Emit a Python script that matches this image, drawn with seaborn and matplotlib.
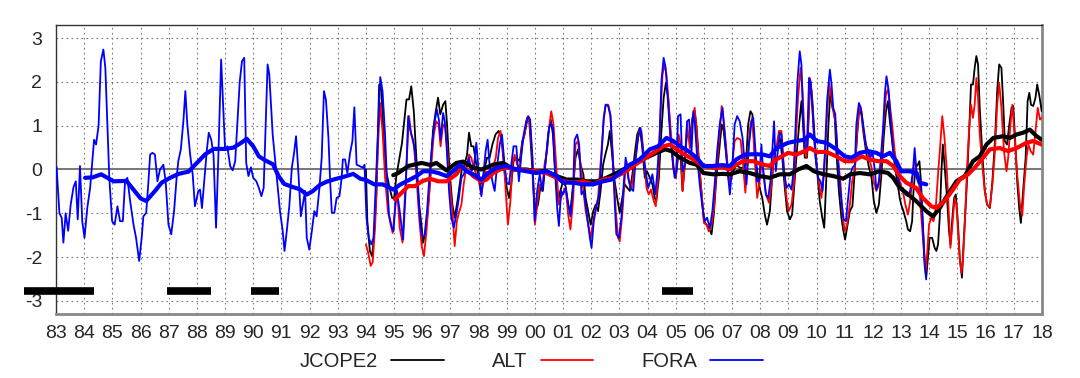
import numpy as np
import pandas as pd
import matplotlib.pyplot as plt
import seaborn as sns

# monthly-ish anomalies: (decimal year, value)
fora_thin = [
    (1983.02, 0.05), (1983.12, -1.0), (1983.2, -1.1), (1983.26, -1.67), (1983.34, -1.0),
    (1983.43, -1.4), (1983.52, -0.8), (1983.62, -0.4), (1983.7, -0.27), (1983.77, -1.14),
    (1983.85, 0.08), (1983.93, -1.18), (1984.01, -1.56), (1984.11, -0.87), (1984.21, -0.42),
    (1984.35, 0.68), (1984.42, 0.57), (1984.51, 1.0), (1984.59, 2.47), (1984.68, 2.74),
    (1984.75, 2.32), (1984.82, 1.03), (1984.89, -0.19), (1984.99, -1.18), (1985.08, -1.26),
    (1985.18, -0.84), (1985.27, -1.18), (1985.37, -1.18), (1985.45, -0.27), (1985.53, -0.19),
    (1985.63, -0.72), (1985.75, -1.26), (1985.84, -1.56), (1985.95, -2.09), (1986.04, -1.56),
    (1986.1, -1.07), (1986.2, -0.99), (1986.28, -0.27), (1986.34, 0.34), (1986.42, 0.38),
    (1986.51, 0.34), (1986.6, -0.27), (1986.69, 0.0), (1986.81, 0.11), (1986.89, -0.27),
    (1986.99, -1.26), (1987.09, -1.48), (1987.19, -0.95), (1987.28, -0.19), (1987.34, 0.19),
    (1987.43, 0.46), (1987.52, 1.1), (1987.59, 1.79), (1987.66, 1.03), (1987.76, 0.34),
    (1987.85, -0.11), (1987.93, -0.84), (1988.05, -0.49), (1988.11, -0.46), (1988.18, -0.88),
    (1988.25, -0.34), (1988.35, 0.42), (1988.42, 0.84), (1988.51, 0.68), (1988.59, 0.34),
    (1988.68, -1.33), (1988.76, 0.27), (1988.86, 2.51), (1988.94, 1.33), (1989.0, 0.46),
    (1989.08, 0.53), (1989.18, 0.08), (1989.27, -0.02), (1989.36, 0.19), (1989.45, 1.2),
    (1989.52, 2.0), (1989.6, 2.47), (1989.68, 2.55), (1989.75, 0.15), (1989.83, -0.15),
    (1989.92, 0.05), (1990.0, -0.19), (1990.11, -0.27), (1990.2, -0.42), (1990.29, -0.61),
    (1990.37, -0.42), (1990.44, 1.03), (1990.51, 2.4), (1990.57, 2.17), (1990.69, 0.8),
    (1990.83, -0.15), (1990.95, -0.95), (1991.04, -1.37), (1991.11, -1.86), (1991.19, -1.41),
    (1991.28, -0.84), (1991.37, 0.04), (1991.45, 0.38), (1991.52, 0.76), (1991.6, -0.04),
    (1991.69, -1.07), (1991.76, -0.8), (1991.84, -0.49), (1991.9, -1.56), (1991.99, -1.83),
    (1992.08, -1.41), (1992.17, -0.95), (1992.25, -1.07), (1992.35, -0.42), (1992.43, 0.27),
    (1992.51, 1.79), (1992.58, 1.6), (1992.67, 0.72), (1992.73, -0.27), (1992.79, -0.99),
    (1992.88, -0.99), (1992.96, -0.65), (1993.06, -0.61), (1993.14, -0.19), (1993.18, 0.23),
    (1993.26, 0.23), (1993.34, -0.08), (1993.44, 0.38), (1993.52, 0.65), (1993.59, 1.42),
    (1993.67, 0.11), (1993.77, 0.08), (1993.89, 0.04), (1993.95, 0.11), (1994.02, -1.1),
    (1994.1, -1.56), (1994.19, -1.71), (1994.27, -1.56), (1994.38, 0.11), (1994.51, 2.11),
    (1994.59, 1.79), (1994.68, 0.8), (1994.74, -0.15), (1994.82, -1.03), (1994.92, -1.33),
    (1994.98, -1.41), (1995.08, -0.42), (1995.2, -0.95), (1995.32, -1.6), (1995.41, -0.49),
    (1995.5, 1.22), (1995.58, 0.88), (1995.67, 0.68), (1995.74, 0.42), (1995.85, -0.49),
    (1995.93, -1.26), (1996.0, -1.52), (1996.08, -1.52), (1996.17, -0.95), (1996.26, -0.11),
    (1996.36, 0.65), (1996.44, 1.1), (1996.52, 1.37), (1996.6, 1.1), (1996.65, 0.68),
    (1996.74, 1.29), (1996.8, 1.1), (1996.86, 0.57), (1996.95, -0.49), (1997.03, -1.1),
    (1997.12, -1.33), (1997.21, -1.03), (1997.3, -0.65), (1997.39, -0.19), (1997.47, -0.11),
    (1997.56, 0.04), (1997.66, 0.27), (1997.74, -0.04), (1997.83, 0.04), (1997.92, 0.61),
    (1998.01, -0.11), (1998.1, -0.61), (1998.18, -0.04), (1998.25, 0.42), (1998.32, 0.68),
    (1998.39, 0.11), (1998.49, -0.27), (1998.57, -0.49), (1998.65, 0.04), (1998.75, 0.57),
    (1998.83, 0.8), (1998.92, 0.11), (1999.0, -0.3), (1999.08, -0.34), (1999.16, 0.11),
    (1999.24, 0.53), (1999.34, 0.53), (1999.43, -0.27), (1999.52, 0.34), (1999.6, 0.8),
    (1999.69, 1.1), (1999.76, 1.22), (1999.83, 1.14), (1999.91, 0.27), (1999.99, -1.18),
    (2000.08, -0.49), (2000.17, -0.11), (2000.26, -0.49), (2000.34, -0.04), (2000.43, 0.49),
    (2000.5, 0.95), (2000.57, 1.07), (2000.64, 0.95), (2000.72, -0.11), (2000.79, -0.88),
    (2000.85, -1.29), (2000.93, -0.49), (2001.0, -0.57), (2001.09, -0.42), (2001.18, -0.8),
    (2001.26, -1.07), (2001.36, -0.34), (2001.41, 0.68), (2001.5, 0.8), (2001.57, 0.57),
    (2001.65, -0.57), (2001.73, -0.49), (2001.8, -0.8), (2001.89, -1.26), (2001.95, -1.56),
    (2002.01, -1.79), (2002.09, -1.18), (2002.18, -0.84), (2002.28, -0.57), (2002.36, 0.27),
    (2002.44, 1.18), (2002.51, 1.48), (2002.6, 1.45), (2002.68, 1.22), (2002.75, 0.42),
    (2002.83, -0.72), (2002.89, -1.48), (2002.98, -1.56), (2003.07, -1.1), (2003.15, -0.34),
    (2003.22, 0.27), (2003.31, -0.19), (2003.39, -0.42), (2003.49, -0.49), (2003.58, 0.27),
    (2003.66, 0.72), (2003.75, 0.95), (2003.84, 0.42), (2003.93, -0.04), (2004.02, -0.42),
    (2004.1, -0.27), (2004.17, -0.11), (2004.27, -0.57), (2004.34, -0.11), (2004.43, 0.8),
    (2004.49, 2.02), (2004.57, 2.55), (2004.64, 2.32), (2004.73, 1.48), (2004.81, 0.72),
    (2004.91, 0.11), (2004.96, -0.19), (2005.02, -0.04), (2005.08, 1.22), (2005.17, 1.26),
    (2005.24, -0.04), (2005.32, 0.11), (2005.4, 1.1), (2005.47, 1.14), (2005.56, 0.42),
    (2005.62, 1.33), (2005.67, 1.1), (2005.76, 0.27), (2005.85, -0.34), (2005.95, -0.88),
    (2006.03, -1.18), (2006.11, -1.1), (2006.21, -1.33), (2006.3, -0.95), (2006.38, -0.34),
    (2006.47, 0.42), (2006.56, 1.03), (2006.66, 1.41), (2006.74, 0.8), (2006.82, 0.11),
    (2006.92, -0.57), (2007.01, 0.11), (2007.09, 1.03), (2007.18, 1.22), (2007.27, 1.1),
    (2007.37, 0.72), (2007.45, 0.11), (2007.51, -0.34), (2007.6, 0.57), (2007.69, 1.1),
    (2007.75, 1.18), (2007.83, 0.42), (2007.89, -0.27), (2007.96, -0.27), (2008.04, 0.57),
    (2008.1, -0.04), (2008.2, -0.57), (2008.28, -0.65), (2008.36, -0.27), (2008.43, 0.49),
    (2008.49, 1.1), (2008.55, -0.04), (2008.61, 0.34), (2008.69, 0.84), (2008.75, 0.8),
    (2008.83, 0.04), (2008.93, -0.42), (2009.02, -0.34), (2009.11, -0.46), (2009.19, 0.04),
    (2009.26, 1.1), (2009.32, 2.02), (2009.4, 2.7), (2009.46, 2.4), (2009.52, 1.18),
    (2009.58, 0.42), (2009.66, 0.49), (2009.73, 2.09), (2009.79, 1.98), (2009.88, 1.1),
    (2009.96, 0.27), (2010.05, -0.19), (2010.14, -0.27), (2010.21, -0.49), (2010.29, 0.34),
    (2010.37, 1.56), (2010.47, 2.28), (2010.53, 1.94), (2010.59, 1.41), (2010.66, 1.26),
    (2010.73, 0.49), (2010.8, -0.19), (2010.88, -0.72), (2010.96, -1.14), (2011.04, -1.18),
    (2011.12, -0.65), (2011.2, -0.11), (2011.27, 0.04), (2011.36, 0.11), (2011.41, 1.03),
    (2011.5, 1.52), (2011.57, 1.41), (2011.65, 1.03), (2011.75, 0.57), (2011.83, 0.42),
    (2011.91, 0.27), (2011.98, 0.42), (2012.07, -0.04), (2012.12, -0.46), (2012.21, -0.27),
    (2012.28, 0.27), (2012.36, 0.95), (2012.42, 1.71), (2012.48, 2.13), (2012.56, 1.79),
    (2012.63, 1.1), (2012.72, 0.42), (2012.8, 0.19), (2012.89, -0.19), (2012.98, -0.42),
    (2013.06, -0.42), (2013.15, -0.57), (2013.24, -0.61), (2013.32, -0.49), (2013.42, -0.04),
    (2013.48, 0.49), (2013.54, -0.04), (2013.62, -0.27), (2013.69, -0.34), (2013.77, -1.26),
    (2013.83, -2.17), (2013.89, -2.51),
]

jcope2_thin = [
    (1994.0, 0.0), (1994.05, -1.18), (1994.14, -1.86), (1994.22, -1.98), (1994.28, -1.56),
    (1994.37, -0.65), (1994.47, 1.94), (1994.55, 1.79), (1994.63, 0.72), (1994.72, -0.04),
    (1994.84, -0.42), (1994.93, -0.65), (1995.0, -0.65), (1995.08, -0.15), (1995.28, 0.6),
    (1995.44, 1.6), (1995.53, 1.6), (1995.61, 1.9), (1995.7, 1.33), (1995.79, 0.27),
    (1995.89, -0.8), (1995.97, -1.26), (1996.03, -1.67), (1996.12, -1.41), (1996.2, -0.91),
    (1996.29, -0.11), (1996.38, 0.88), (1996.48, 1.33), (1996.56, 1.64), (1996.64, 1.26),
    (1996.74, 1.48), (1996.82, 1.56), (1996.88, 1.03), (1996.97, -0.04), (1997.07, -0.8),
    (1997.15, -1.1), (1997.25, -0.72), (1997.33, -0.34), (1997.41, 0.04), (1997.5, 0.11),
    (1997.59, 0.34), (1997.66, 0.84), (1997.74, 0.53), (1997.82, 0.53), (1997.9, 0.19),
    (1997.98, -0.11), (1998.06, -0.34), (1998.13, -0.27), (1998.22, 0.04), (1998.3, 0.27),
    (1998.39, 0.27), (1998.49, 0.57), (1998.6, 0.8), (1998.71, 0.88), (1998.81, 0.72),
    (1998.92, -0.04), (1999.0, -0.42), (1999.08, -0.65), (1999.16, -0.34), (1999.24, 0.19),
    (1999.34, 0.27), (1999.46, 0.19), (1999.55, 0.65), (1999.63, 0.8), (1999.72, 1.1),
    (1999.79, 1.18), (1999.87, 0.42), (1999.95, -0.49), (2000.02, -0.95), (2000.11, -0.8),
    (2000.19, -0.42), (2000.28, -0.49), (2000.38, 0.19), (2000.47, 0.8), (2000.56, 1.14),
    (2000.64, 0.8), (2000.72, -0.11), (2000.82, -0.72), (2000.9, -0.49), (2001.0, -0.27),
    (2001.09, -0.38), (2001.18, -0.8), (2001.26, -0.95), (2001.36, -0.34), (2001.44, 0.27),
    (2001.53, 0.46), (2001.62, 0.11), (2001.72, -0.11), (2001.8, -0.65), (2001.89, -0.95),
    (2001.98, -1.26), (2002.07, -0.95), (2002.16, -0.8), (2002.24, -0.95), (2002.33, -0.49),
    (2002.42, 0.11), (2002.5, 0.34), (2002.59, 0.57), (2002.66, 0.88), (2002.75, 0.27),
    (2002.83, -0.27), (2002.92, -0.65), (2003.01, -0.99), (2003.1, -0.65), (2003.19, -0.34),
    (2003.28, -0.42), (2003.37, -0.49), (2003.46, -0.11), (2003.54, 0.34), (2003.63, 0.8),
    (2003.72, 0.95), (2003.8, 0.57), (2003.9, -0.19), (2003.98, -0.04), (2004.08, -0.19),
    (2004.17, -0.34), (2004.25, -0.65), (2004.31, -0.72), (2004.4, -0.19), (2004.49, 0.88),
    (2004.57, 1.64), (2004.65, 1.98), (2004.73, 1.64), (2004.81, 0.8), (2004.91, 0.04),
    (2005.0, -0.19), (2005.08, 0.27), (2005.17, 0.3), (2005.24, -0.49), (2005.32, 0.11),
    (2005.4, 0.88), (2005.5, 0.65), (2005.59, 1.18), (2005.67, 1.33), (2005.73, 1.03),
    (2005.83, 0.11), (2005.91, -0.49), (2006.0, -1.18), (2006.09, -1.26), (2006.17, -1.33),
    (2006.27, -1.48), (2006.35, -1.03), (2006.44, -0.19), (2006.54, 0.42), (2006.63, 1.03),
    (2006.7, 0.88), (2006.8, 0.27), (2006.89, -0.27), (2006.97, -0.19), (2007.04, -0.04),
    (2007.15, 0.11), (2007.27, 0.04), (2007.39, 0.04), (2007.49, 0.11), (2007.57, 1.03),
    (2007.65, 1.33), (2007.72, 1.26), (2007.8, 0.42), (2007.89, -0.04), (2007.98, -0.42),
    (2008.07, -0.65), (2008.16, -1.03), (2008.24, -1.26), (2008.34, -0.95), (2008.43, -0.11),
    (2008.51, 0.42), (2008.6, 0.57), (2008.69, 0.72), (2008.78, 0.27), (2008.87, -0.42),
    (2008.95, -0.95), (2009.05, -1.14), (2009.13, -1.03), (2009.21, -0.34), (2009.28, 0.27),
    (2009.38, 1.03), (2009.46, 1.56), (2009.52, 1.03), (2009.58, 0.27), (2009.66, 0.27),
    (2009.73, 1.41), (2009.78, 2.02), (2009.85, 1.56), (2009.93, 0.72), (2010.02, -0.04),
    (2010.11, -0.72), (2010.2, -1.1), (2010.27, -1.33), (2010.35, -0.11), (2010.42, 1.03),
    (2010.49, 1.79), (2010.56, 1.41), (2010.64, 1.26), (2010.7, 0.42), (2010.79, -0.49),
    (2010.88, -1.1), (2010.94, -1.37), (2011.01, -1.6), (2011.08, -1.33), (2011.18, -0.95),
    (2011.27, -0.84), (2011.36, 0.04), (2011.44, 0.8), (2011.51, 1.37), (2011.59, 1.26),
    (2011.67, 0.8), (2011.77, 0.34), (2011.86, 0.04), (2011.95, -0.19), (2012.03, -0.72),
    (2012.12, -0.99), (2012.21, -0.8), (2012.3, -0.11), (2012.38, 0.72), (2012.46, 1.33),
    (2012.53, 1.56), (2012.6, 1.1), (2012.68, 0.65), (2012.77, 0.11), (2012.86, -0.27),
    (2012.95, -0.65), (2013.0, -0.8), (2013.08, -0.95), (2013.18, -1.18), (2013.24, -1.37),
    (2013.32, -1.41), (2013.39, -1.18), (2013.44, -0.49), (2013.51, 0.04), (2013.59, 0.11),
    (2013.65, 0.19), (2013.71, -0.34), (2013.77, -1.26), (2013.83, -2.02), (2013.89, -2.47),
    (2013.95, -2.02), (2014.01, -1.56), (2014.1, -1.56), (2014.19, -1.79), (2014.25, -1.86),
    (2014.31, -1.71), (2014.37, -1.1), (2014.43, -0.04), (2014.48, 0.57), (2014.54, 0.11),
    (2014.63, -0.65), (2014.7, -1.41), (2014.75, -1.71), (2014.82, -1.1), (2014.88, -0.65),
    (2014.94, -0.57), (2015.02, -1.26), (2015.08, -2.02), (2015.16, -2.47), (2015.22, -1.64),
    (2015.32, -0.49), (2015.41, 0.8), (2015.48, 1.94), (2015.55, 1.94), (2015.61, 2.32),
    (2015.67, 2.59), (2015.73, 2.4), (2015.79, 1.41), (2015.89, 0.27), (2015.97, -0.49),
    (2016.05, -0.8), (2016.15, -0.88), (2016.24, -0.27), (2016.33, 0.65), (2016.41, 1.79),
    (2016.48, 2.4), (2016.56, 2.32), (2016.62, 1.56), (2016.68, 0.65), (2016.76, 0.57),
    (2016.84, 1.03), (2016.92, 1.41), (2016.98, 1.45), (2017.05, 0.65), (2017.12, -0.27),
    (2017.19, -0.88), (2017.25, -1.22), (2017.33, -0.49), (2017.42, 0.27), (2017.49, 1.56),
    (2017.55, 1.75), (2017.61, 1.48), (2017.69, 1.45), (2017.77, 1.64), (2017.83, 1.94),
    (2017.9, 1.71), (2017.99, 1.33),
]

alt_thin = [
    (1994.0, -1.71), (1994.08, -1.9), (1994.17, -2.2), (1994.24, -2.12), (1994.33, -1.26),
    (1994.41, 0.27), (1994.5, 1.52), (1994.59, 0.88), (1994.68, -0.19), (1994.78, -0.95),
    (1994.88, -1.26), (1994.95, -1.45), (1995.04, -0.87), (1995.11, -0.49), (1995.2, -1.33),
    (1995.3, -1.67), (1995.38, -0.65), (1995.46, 0.42), (1995.53, 1.22), (1995.61, 0.8),
    (1995.7, 0.57), (1995.79, -0.11), (1995.89, -1.1), (1995.98, -1.75), (1996.06, -1.98),
    (1996.15, -1.41), (1996.24, -0.65), (1996.32, 0.11), (1996.41, 0.8), (1996.5, 1.1),
    (1996.58, 1.03), (1996.65, 0.53), (1996.74, 1.03), (1996.82, 0.95), (1996.89, 0.42),
    (1996.97, -0.27), (1997.07, -0.95), (1997.15, -1.75), (1997.23, -1.18), (1997.3, -0.99),
    (1997.39, -0.8), (1997.47, -0.34), (1997.56, 0.04), (1997.66, 0.34), (1997.74, 0.27),
    (1997.83, 0.04), (1997.92, -0.11), (1998.01, -0.27), (1998.09, -0.57), (1998.18, -0.27),
    (1998.25, -0.04), (1998.33, -0.11), (1998.42, -0.04), (1998.51, 0.04), (1998.61, 0.27),
    (1998.69, 0.72), (1998.78, 0.88), (1998.87, 0.42), (1998.96, -0.49), (1999.04, -1.26),
    (1999.13, -0.72), (1999.2, 0.11), (1999.28, 0.34), (1999.37, 0.11), (1999.46, 0.04),
    (1999.55, 0.57), (1999.63, 0.8), (1999.72, 1.18), (1999.81, 1.1), (1999.91, 0.27),
    (2000.0, -1.26), (2000.08, -0.8), (2000.17, -0.34), (2000.26, -0.42), (2000.34, 0.11),
    (2000.43, 0.42), (2000.5, 0.95), (2000.58, 1.33), (2000.66, 1.03), (2000.76, 0.04),
    (2000.85, -0.8), (2000.93, -0.65), (2001.02, -0.49), (2001.09, -0.42), (2001.18, -1.03),
    (2001.26, -1.37), (2001.36, -0.65), (2001.44, 0.57), (2001.53, 0.65), (2001.62, 0.11),
    (2001.72, -0.49), (2001.8, -0.95), (2001.89, -1.26), (2001.98, -1.56), (2002.07, -1.18),
    (2002.16, -0.88), (2002.24, -0.65), (2002.36, 0.42), (2002.44, 1.1), (2002.51, 1.48),
    (2002.6, 1.48), (2002.68, 1.26), (2002.77, 0.27), (2002.87, -0.95), (2002.95, -1.56),
    (2003.01, -1.64), (2003.1, -1.03), (2003.19, -0.19), (2003.25, 0.19), (2003.34, -0.27),
    (2003.43, -0.42), (2003.51, -0.04), (2003.6, 0.42), (2003.69, 0.88), (2003.78, 0.88),
    (2003.86, 0.34), (2003.96, -0.42), (2004.04, -0.57), (2004.12, -0.46), (2004.22, -0.72),
    (2004.29, -0.84), (2004.37, -0.19), (2004.45, 1.18), (2004.53, 2.17), (2004.6, 2.4),
    (2004.67, 2.17), (2004.75, 1.48), (2004.85, 0.65), (2004.93, -0.04), (2005.0, -0.19),
    (2005.1, 0.8), (2005.17, 0.57), (2005.24, -0.49), (2005.32, 0.11), (2005.4, 1.03),
    (2005.5, 0.49), (2005.59, 1.1), (2005.67, 1.41), (2005.73, 0.95), (2005.83, 0.11),
    (2005.91, -0.49), (2006.0, -1.22), (2006.09, -1.26), (2006.17, -1.41), (2006.27, -1.26),
    (2006.35, -0.95), (2006.44, -0.04), (2006.54, 0.72), (2006.63, 1.45), (2006.7, 1.1),
    (2006.8, 0.42), (2006.89, -0.34), (2006.97, -0.11), (2007.09, 0.65), (2007.18, 0.72),
    (2007.3, 0.68), (2007.39, 0.11), (2007.47, -0.53), (2007.57, 0.42), (2007.65, 1.03),
    (2007.72, 1.18), (2007.8, 0.27), (2007.89, -0.65), (2007.96, -0.34), (2008.04, 0.11),
    (2008.1, 0.04), (2008.2, -0.57), (2008.31, -0.76), (2008.4, -0.34), (2008.48, 0.27),
    (2008.57, 0.49), (2008.66, 0.88), (2008.75, 0.88), (2008.83, 0.11), (2008.93, -0.65),
    (2009.01, -0.95), (2009.11, -0.8), (2009.19, -0.34), (2009.26, 0.65), (2009.34, 1.64),
    (2009.43, 2.32), (2009.5, 1.79), (2009.57, 0.8), (2009.64, 0.27), (2009.71, 1.18),
    (2009.76, 2.09), (2009.82, 1.79), (2009.9, 0.8), (2009.99, 0.11), (2010.09, -0.34),
    (2010.17, -0.65), (2010.27, -0.04), (2010.35, 1.03), (2010.44, 1.98), (2010.53, 1.64),
    (2010.61, 1.26), (2010.68, 1.03), (2010.76, 0.27), (2010.85, -0.34), (2010.92, -1.03),
    (2011.0, -1.41), (2011.08, -1.26), (2011.18, -0.8), (2011.26, -0.27), (2011.36, 0.04),
    (2011.44, 0.88), (2011.51, 1.41), (2011.59, 1.33), (2011.67, 0.88), (2011.77, 0.49),
    (2011.86, 0.27), (2011.95, 0.04), (2012.03, -0.27), (2012.12, -0.49), (2012.22, -0.34),
    (2012.3, 0.27), (2012.38, 1.03), (2012.46, 1.71), (2012.53, 1.83), (2012.6, 1.48),
    (2012.68, 1.03), (2012.77, 0.42), (2012.86, 0.04), (2012.95, -0.27), (2013.06, -0.49),
    (2013.15, -0.8), (2013.24, -1.03), (2013.32, -0.72), (2013.39, -0.27), (2013.48, 0.27),
    (2013.56, -0.08), (2013.63, -0.27), (2013.71, -1.03), (2013.8, -1.79), (2013.87, -2.32),
    (2013.93, -1.86), (2013.99, -1.26), (2014.07, -1.1), (2014.15, -1.18), (2014.22, -0.95),
    (2014.31, -0.11), (2014.39, 0.57), (2014.46, 1.22), (2014.54, 0.72), (2014.63, -0.11),
    (2014.7, -1.1), (2014.75, -1.79), (2014.82, -1.26), (2014.9, -0.65), (2014.96, -0.8),
    (2015.02, -1.41), (2015.08, -2.02), (2015.14, -2.36), (2015.2, -2.02), (2015.27, -1.1),
    (2015.34, 0.04), (2015.41, 0.88), (2015.48, 1.48), (2015.55, 1.18), (2015.61, 1.48),
    (2015.67, 2.09), (2015.73, 1.64), (2015.79, 0.8), (2015.89, 0.04), (2015.97, -0.49),
    (2016.05, -0.8), (2016.15, -0.86), (2016.24, -0.34), (2016.33, 0.42), (2016.41, 1.48),
    (2016.48, 1.98), (2016.56, 1.41), (2016.65, 0.42), (2016.74, -0.04), (2016.8, 0.27),
    (2016.88, 1.03), (2016.95, 1.48), (2017.04, 0.65), (2017.12, -0.11), (2017.22, -0.8),
    (2017.3, -1.05), (2017.37, -0.34), (2017.45, 0.27), (2017.52, 0.57), (2017.6, 0.42),
    (2017.69, 0.34), (2017.77, 0.88), (2017.85, 1.41), (2017.93, 1.14), (2017.99, 1.18),
]

# running means (thick lines)
fora_mean = [
    (1984.03, -0.19), (1984.3, -0.18), (1984.6, -0.11), (1984.85, -0.2), (1985.05, -0.27),
    (1985.5, -0.26), (1985.75, -0.46), (1986.0, -0.66), (1986.2, -0.72), (1986.5, -0.5),
    (1986.75, -0.3), (1987.05, -0.19), (1987.35, -0.1), (1987.7, -0.05), (1988.0, 0.15),
    (1988.3, 0.35), (1988.6, 0.47), (1989.0, 0.47), (1989.3, 0.5), (1989.55, 0.6),
    (1989.77, 0.7), (1990.0, 0.53), (1990.2, 0.3), (1990.45, 0.2), (1990.7, 0.12),
    (1990.9, -0.15), (1991.1, -0.33), (1991.4, -0.4), (1991.65, -0.45), (1991.9, -0.57),
    (1992.1, -0.5), (1992.37, -0.35), (1992.6, -0.28), (1992.9, -0.22), (1993.2, -0.17),
    (1993.55, -0.1), (1993.8, -0.21), (1994.0, -0.24), (1994.3, -0.34), (1994.6, -0.34),
    (1994.98, -0.46), (1995.2, -0.35), (1995.56, -0.23), (1995.8, -0.15), (1996.03, -0.04),
    (1996.3, -0.04), (1996.57, -0.08), (1996.86, -0.15), (1997.1, -0.04), (1997.34, 0.11),
    (1997.57, -0.04), (1997.81, -0.11), (1998.1, -0.23), (1998.34, -0.08), (1998.64, 0.04),
    (1998.99, 0.08), (1999.35, 0.0), (1999.7, -0.04), (2000.04, -0.08), (2000.4, -0.04),
    (2000.77, -0.15), (2001.0, -0.3), (2001.35, -0.3), (2001.71, -0.34), (2002.06, -0.34),
    (2002.42, -0.27), (2002.72, -0.23), (2003.02, -0.08), (2003.37, 0.11), (2003.72, 0.23),
    (2004.08, 0.46), (2004.37, 0.53), (2004.67, 0.72), (2004.91, 0.65), (2005.15, 0.53),
    (2005.45, 0.42), (2005.74, 0.27), (2005.98, 0.08), (2006.3, 0.08), (2006.65, 0.1),
    (2006.92, 0.08), (2007.15, 0.23), (2007.45, 0.34), (2007.8, 0.35), (2008.1, 0.34),
    (2008.34, 0.3), (2008.57, 0.49), (2008.99, 0.61), (2009.28, 0.65), (2009.58, 0.68),
    (2009.76, 0.8), (2010.0, 0.65), (2010.35, 0.61), (2010.7, 0.46), (2011.0, 0.3),
    (2011.24, 0.27), (2011.53, 0.38), (2011.83, 0.42), (2012.12, 0.38), (2012.36, 0.3),
    (2012.6, 0.38), (2012.83, 0.19), (2013.0, -0.04), (2013.3, -0.04), (2013.55, -0.08),
    (2013.65, -0.3), (2013.89, -0.34),
]

jcope2_mean = [
    (1994.97, -0.13), (1995.15, -0.08), (1995.5, 0.08), (1995.98, 0.15), (1996.3, 0.1),
    (1996.5, 0.15), (1996.86, -0.02), (1997.21, 0.15), (1997.45, 0.18), (1997.8, 0.04),
    (1998.1, 0.0), (1998.52, 0.11), (1998.87, 0.15), (1999.23, 0.0), (1999.7, 0.0),
    (2000.04, -0.04), (2000.4, -0.04), (2000.77, -0.15), (2001.12, -0.23), (2001.5, -0.23),
    (2001.83, -0.27), (2002.2, -0.27), (2002.54, -0.19), (2002.9, -0.08), (2003.25, 0.04),
    (2003.6, 0.15), (2003.95, 0.27), (2004.32, 0.38), (2004.62, 0.46), (2004.85, 0.42),
    (2005.15, 0.27), (2005.5, 0.15), (2005.74, 0.11), (2005.98, -0.08), (2006.33, -0.11),
    (2006.65, -0.1), (2006.92, -0.11), (2007.27, -0.04), (2007.62, -0.08), (2007.98, -0.15),
    (2008.34, -0.19), (2008.69, -0.11), (2009.05, -0.11), (2009.34, 0.0), (2009.64, 0.08),
    (2009.9, -0.04), (2010.25, -0.11), (2010.59, -0.15), (2010.94, -0.21), (2011.2, -0.11),
    (2011.53, -0.08), (2011.88, -0.11), (2012.24, -0.04), (2012.53, -0.08), (2012.72, -0.19),
    (2012.95, -0.42), (2013.18, -0.53), (2013.53, -0.72), (2013.89, -0.95), (2014.13, -1.07),
    (2014.37, -0.88), (2014.66, -0.57), (2014.96, -0.27), (2015.26, -0.15), (2015.55, 0.19),
    (2015.79, 0.3), (2016.03, 0.57), (2016.27, 0.72), (2016.62, 0.76), (2016.86, 0.72),
    (2017.1, 0.8), (2017.33, 0.84), (2017.57, 0.91), (2017.81, 0.76), (2017.99, 0.68),
]

alt_mean = [
    (1995.03, -0.68), (1995.27, -0.53), (1995.5, -0.38), (1995.75, -0.38), (1995.98, -0.27),
    (1996.27, -0.21), (1996.57, -0.27), (1996.86, -0.27), (1997.21, -0.11), (1997.39, 0.08),
    (1997.57, 0.0), (1997.81, -0.15), (1998.1, -0.27), (1998.28, -0.23), (1998.52, -0.08),
    (1998.76, 0.0), (1999.0, 0.04), (1999.35, 0.0), (1999.7, -0.02), (2000.04, -0.04),
    (2000.4, -0.08), (2000.77, -0.19), (2001.0, -0.27), (2001.35, -0.3), (2001.71, -0.27),
    (2002.06, -0.34), (2002.42, -0.23), (2002.78, -0.19), (2003.13, -0.08), (2003.49, 0.08),
    (2003.84, 0.23), (2004.2, 0.38), (2004.56, 0.53), (2004.8, 0.57), (2005.03, 0.46),
    (2005.32, 0.34), (2005.62, 0.23), (2005.98, 0.08), (2006.33, 0.04), (2006.65, 0.05),
    (2006.92, 0.0), (2007.15, 0.11), (2007.39, 0.19), (2007.75, 0.19), (2008.1, 0.11),
    (2008.34, 0.08), (2008.57, 0.23), (2008.99, 0.38), (2009.28, 0.34), (2009.58, 0.42),
    (2009.76, 0.49), (2010.0, 0.4), (2010.35, 0.4), (2010.7, 0.3), (2011.0, 0.19),
    (2011.3, 0.19), (2011.59, 0.3), (2011.88, 0.23), (2012.18, 0.19), (2012.48, 0.19),
    (2012.72, 0.08), (2012.95, -0.15), (2013.18, -0.3), (2013.53, -0.42), (2013.77, -0.65),
    (2014.07, -0.84), (2014.25, -0.88), (2014.54, -0.72), (2014.84, -0.46), (2015.08, -0.23),
    (2015.38, -0.11), (2015.61, 0.04), (2015.91, 0.27), (2016.15, 0.46), (2016.5, 0.49),
    (2016.8, 0.42), (2017.1, 0.49), (2017.45, 0.61), (2017.69, 0.65), (2017.99, 0.57),
]

# large meander periods (start, end) shown as black bars
meander_start = [1981.86, 1986.93, 1989.93, 2004.5]
meander_end = [1984.35, 1988.5, 1990.92, 2005.6]

years = list(range(1983, 2019))
year_labels = [f"{y % 100:02d}" for y in years]

sns.set_style("white")
plt.rcParams['font.family'] = ['Liberation Sans', 'DejaVu Sans']
plt.rcParams['axes.unicode_minus'] = False


def to_df(pairs):
    t, v = zip(*pairs)
    return pd.DataFrame({'year': t, 'value': v})


fig = plt.figure(figsize=(10.8, 3.78), dpi=100)
ax = fig.add_axes([0.0519, 0.1693, 0.9129, 0.7646])

series = [('JCOPE2', jcope2_thin, jcope2_mean, 'black'),
          ('ALT', alt_thin, alt_mean, '#ff0000'),
          ('FORA', fora_thin, fora_mean, '#0000ff')]

# thin lines first, then the running means on top
handles = []
for name, thin, mean, col in series:
    sns.lineplot(data=to_df(thin), x='year', y='value', ax=ax, color=col,
                 lw=1.3, estimator=None, sort=False, legend=False, zorder=3)
    handles.append(ax.lines[-1])
for name, thin, mean, col in series:
    sns.lineplot(data=to_df(mean), x='year', y='value', ax=ax, color=col,
                 lw=3.0, estimator=None, sort=False, legend=False, zorder=4)

ax.hlines([-2.78] * len(meander_start), meander_start, meander_end,
          color='black', lw=5.5, clip_on=False, zorder=5)

ax.set_xlim(1983, 2018)
ax.set_ylim(-3.3, 3.3)
ax.set_xticks(years)
ax.set_xticklabels(year_labels)
ax.set_yticks(range(-3, 4))
ax.set_yticklabels([str(i) for i in range(-3, 4)])
ax.tick_params(axis='both', length=0, labelsize=14)
ax.tick_params(axis='x', pad=8)
ax.tick_params(axis='y', pad=10)
ax.grid(True, color='#777777', linestyle=(0, (1.5, 3)), lw=0.8)
ax.axhline(0, color='#777777', lw=1.4, zorder=2)
ax.set_xlabel('')
ax.set_ylabel('')

for s in ['top', 'left']:
    ax.spines[s].set_color('#333333')
    ax.spines[s].set_linewidth(1.0)
for s in ['bottom', 'right']:
    ax.spines[s].set_color('#888888')
    ax.spines[s].set_linewidth(2.0)

fig.legend(handles, [s[0] for s in series], loc='center', bbox_to_anchor=(0.492, 0.043),
           ncol=3, frameon=False, markerfirst=False, fontsize=14.5,
           handlelength=2.6, handletextpad=0.65, columnspacing=2.4)

fig.savefig('out.png', dpi=100)
